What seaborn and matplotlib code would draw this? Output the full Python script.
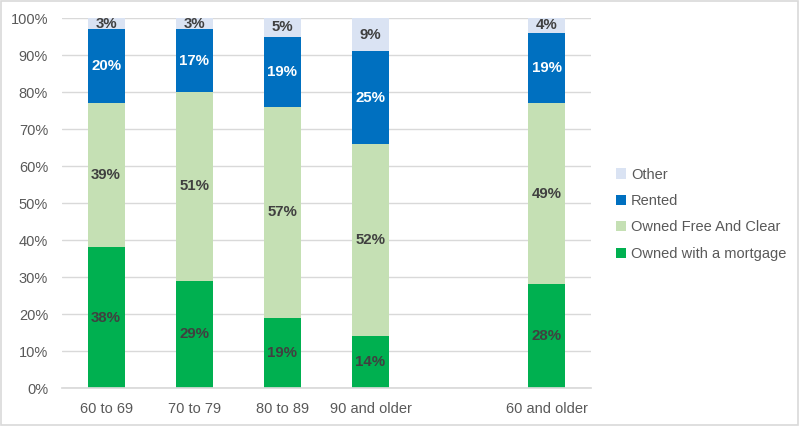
import matplotlib
matplotlib.use("Agg")
import matplotlib.pyplot as plt
import seaborn as sns
import pandas as pd
import numpy as np
from matplotlib.patches import Patch, Rectangle

categories = ["60 to 69", "70 to 79", "80 to 89", "90 and older", "60 and older"]
mortgage = [38, 29, 19, 14, 28]
free_clear = [39, 51, 57, 52, 49]
rented = [20, 17, 19, 25, 19]
other = [3, 3, 5, 9, 4]
series_names = ["Owned with a mortgage", "Owned Free And Clear", "Rented", "Other"]
colors = ["#00B050", "#C5E0B4", "#0070C0", "#DAE3F3"]
label_colors = ["#404040", "#404040", "#FFFFFF", "#404040"]

sns.set_theme(style="white")
plt.rcParams['font.family'] = ['Liberation Sans', 'DejaVu Sans']

order = categories[:4] + [" "] + categories[4:]
df = pd.DataFrame({"cat": categories, "m": mortgage, "f": free_clear, "r": rented, "o": other})
layers = [df["m"].values, df["f"].values, df["r"].values, df["o"].values]
cum = np.cumsum(np.vstack(layers), axis=0)

fig = plt.figure(figsize=(8, 4.26), dpi=100)
ax = fig.add_axes([0.0775, 0.0892, 0.661, 0.8685])

# draw from the top cumulative down so each layer shows
for i in range(3, -1, -1):
    d = pd.DataFrame({"cat": categories, "val": cum[i]})
    sns.barplot(data=d, x="cat", y="val", order=order, color=colors[i],
                width=0.42, saturation=1, ax=ax, errorbar=None, zorder=3,
                linewidth=0, edgecolor="none")

# labels
xpos = {c: order.index(c) for c in categories}
for i in range(4):
    for j, c in enumerate(categories):
        v = layers[i][j]
        bottom = cum[i][j] - v
        ax.text(xpos[c], bottom + v / 2, f"{v}%", ha="center", va="center",
                fontsize=10.8, fontweight="bold", color=label_colors[i], zorder=5)

ax.set_ylim(0, 100)
ax.set_xlim(-0.5, len(order) - 0.5)
ax.set_yticks(range(0, 101, 10))
ax.set_yticklabels([f"{t}%" for t in range(0, 101, 10)])
ax.set_xticks(range(len(order)))
ax.set_xticklabels([c if c.strip() else "" for c in order])
ax.tick_params(axis="both", labelsize=10.5, labelcolor="#595959", length=0)
ax.tick_params(axis="y", pad=10)
ax.tick_params(axis="x", pad=10)
ax.set_xlabel("")
ax.set_ylabel("")
ax.grid(axis="y", color="#D9D9D9", linewidth=1, zorder=0)
ax.set_axisbelow(True)
for s in ["top", "right", "left"]:
    ax.spines[s].set_visible(False)
ax.spines["bottom"].set_color("#D9D9D9")
ax.spines["bottom"].set_zorder(4)

handles = [Patch(facecolor=colors[i], edgecolor="none", label=series_names[i]) for i in range(3, -1, -1)]
leg = fig.legend(handles=handles, loc="center left", bbox_to_anchor=(0.763, 0.497),
                 frameon=False, fontsize=10.5, handlelength=0.7, handleheight=0.7,
                 handletextpad=0.3, labelspacing=0.85, borderaxespad=0)
for t in leg.get_texts():
    t.set_color("#595959")

fig.patches.append(Rectangle((0.001, 0.002), 0.997, 0.996, transform=fig.transFigure,
                             fill=False, edgecolor="#D9D9D9", linewidth=1.2))

fig.savefig("out.png", dpi=100)
